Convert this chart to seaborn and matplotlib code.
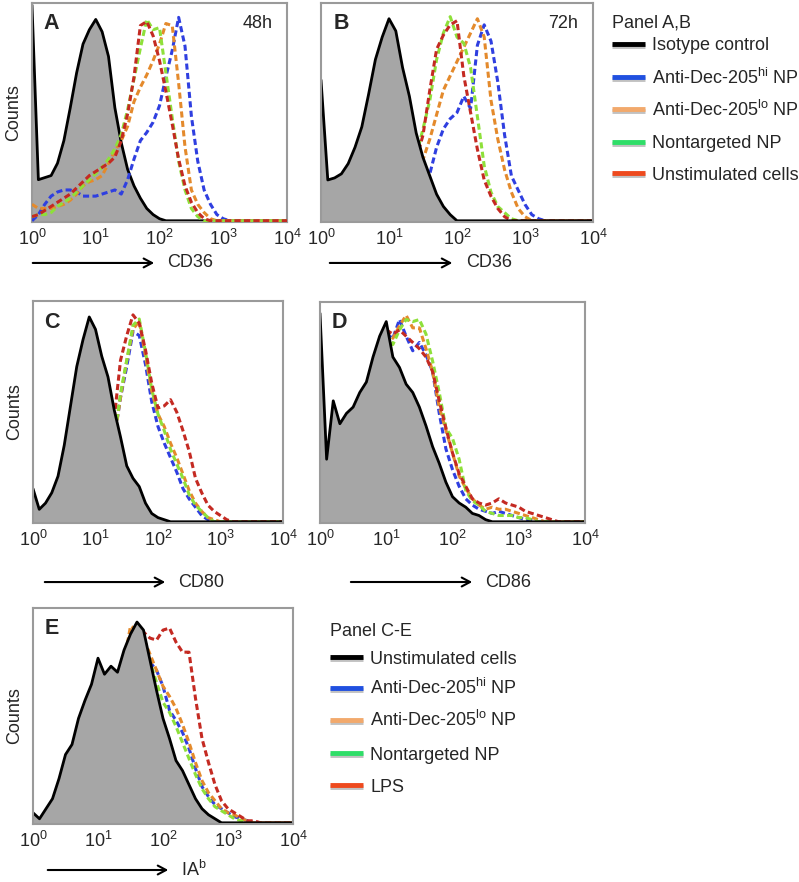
import matplotlib
matplotlib.use("Agg")
import matplotlib.pyplot as plt
import matplotlib.patheffects as pe
from matplotlib.lines import Line2D
import numpy as np
import pandas as pd
import seaborn as sns

# log10 fluorescence channels, 10^0 .. 10^4
channels = np.round(np.arange(0, 4.01, 0.1), 1)
nan = np.nan

# --- panel A (CD36, 48h) ---
a_iso = [105, 20, 21, 22, 28, 39, 55, 72, 86, 93, 98, 92, 80, 55, 38, 25, 17, 11, 6, 3, 1] + [0] * 20
a_hi = [0, 3, 8, 12, 14, 15, 15, 14, 12, 12, 12, 13, 14, 15, 13, 20, 30, 39, 43, 48, 56, 70, 83, 99, 85, 51,
        29, 15, 8, 3, 1, 0] + [0] * 9
a_lo = [8, 6, 6, 6, 7, 8, 10, 13, 17, 19, 20, 22, 28, 34, 39, 46, 58, 65, 71, 78, 86, 96, 95, 67, 36, 15, 8, 4,
        1, 0] + [0] * 11
a_nt = [2, 3, 3, 4, 7, 9, 11, 14, 17, 20, 23, 26, 30, 35, 42, 54, 69, 84, 98, 93, 94, 72, 50, 29, 15, 6, 2, 0] + [0] * 13
a_un = [2, 3, 5, 7, 9, 11, 13, 16, 19, 22, 24, 26, 28, 31, 39, 52, 70, 95, 97, 90, 78, 63, 47, 30, 17, 9, 4, 1,
        0] + [0] * 12

# --- panel B (CD36, 72h) ---
b_iso = [69, 20, 21, 23, 28, 36, 46, 62, 79, 90, 99, 93, 75, 61, 43, 31, 22, 13, 7, 3, 0] + [0] * 20
b_hi = [nan] * 15 + [15, 23, 36, 45, 50, 53, 61, 55, 86, 96, 88, 68, 42, 22, 15, 8, 3, 1, 0] + [0] * 7
b_lo = [nan] * 14 + [20, 30, 40, 52, 64, 71, 78, 85, 92, 99, 90, 59, 40, 25, 14, 6, 2, 0] + [0] * 9
b_nt = [nan] * 14 + [32, 45, 59, 79, 92, 100, 90, 87, 75, 51, 27, 14, 7, 4, 1, 0] + [0] * 11
b_un = [nan] * 14 + [30, 42, 64, 84, 91, 96, 98, 71, 53, 35, 20, 12, 6, 2, 0] + [0] * 12

# --- panel C (CD80) ---
c_iso = [16, 6, 9, 14, 22, 37, 56, 75, 88, 99, 93, 80, 70, 54, 41, 27, 21, 17, 9, 4, 2, 1, 0] + [0] * 18
c_hi = [nan] * 13 + [40, 60, 75, 92, 90, 76, 58, 46, 38, 31, 24, 16, 11, 7, 3, 1, 0] + [0] * 11
c_lo = [nan] * 13 + [40, 60, 78, 93, 97, 80, 63, 52, 46, 38, 31, 23, 15, 9, 5, 2, 1, 0] + [0] * 10
c_nt = [nan] * 13 + [40, 62, 78, 95, 98, 82, 64, 52, 44, 35, 28, 21, 13, 8, 5, 2, 0] + [0] * 11
c_lps = [nan] * 13 + [50, 78, 90, 100, 96, 83, 67, 55, 56, 59, 53, 44, 34, 21, 14, 8, 5, 3, 1, 0] + [0] * 8

# --- panel D (CD86) ---
d_iso = [100, 30, 58, 47, 52, 55, 62, 67, 79, 89, 96, 79, 74, 66, 62, 55, 46, 36, 28, 19, 12, 9, 7, 4, 3, 1,
         0] + [0] * 14
d_hi = [nan] * 10 + [90, 88, 97, 89, 82, 86, 80, 72, 52, 35, 25, 17, 11, 8, 6, 5, 4, 5, 4, 3, 2, 1, 1, 0] + [0] * 7
d_lo = [nan] * 10 + [92, 88, 94, 99, 93, 93, 83, 72, 55, 44, 33, 22, 16, 11, 8, 6, 7, 6, 6, 5, 4, 3, 2, 1,
                     0] + [0] * 6
d_nt = [nan] * 10 + [90, 85, 92, 97, 96, 97, 90, 77, 62, 45, 40, 30, 15, 10, 8, 5, 4, 3, 3, 3, 2, 2, 1, 0] + [0] * 7
d_lps = [nan] * 10 + [92, 90, 92, 89, 86, 83, 79, 72, 58, 45, 33, 23, 17, 11, 9, 8, 9, 11, 9, 8, 7, 5, 4, 3, 2,
                      1, 0] + [0] * 4

# --- panel E (IA^b) ---
e_iso = [5, 2, 7, 12, 22, 34, 39, 52, 61, 69, 82, 74, 78, 75, 86, 94, 100, 96, 81, 66, 52, 42, 31, 26, 19, 12,
         7, 4, 2, 0] + [0] * 11
e_hi = [nan] * 16 + [88, 90, 80, 76, 68, 56, 51, 45, 37, 27, 18, 13, 9, 7, 5, 3, 2, 1, 0] + [0] * 6
e_lo = [nan] * 14 + [80, 98, 96, 92, 84, 76, 68, 63, 57, 49, 40, 30, 21, 15, 11, 7, 5, 4, 2, 1, 0] + [0] * 6
e_nt = [nan] * 16 + [90, 92, 80, 70, 60, 55, 48, 40, 32, 24, 17, 12, 8, 6, 4, 2, 1, 0] + [0] * 7
e_lps = [nan] * 16 + [90, 95, 92, 91, 96, 97, 90, 85, 85, 62, 42, 30, 19, 11, 7, 5, 3, 1, 1, 0] + [0] * 5

panel_letters = ["A", "B", "C", "D", "E"]
panel_times = ["48h", "72h", "", "", ""]
markers = ["CD36", "CD36", "CD80", "CD86", "IA$^{\\mathrm{b}}$"]
tick_labels = ["$10^{0}$", "$10^{1}$", "$10^{2}$", "$10^{3}$", "$10^{4}$"]

legend_ab = ["Isotype control", "Anti-Dec-205$^{\\mathrm{hi}}$ NP", "Anti-Dec-205$^{\\mathrm{lo}}$ NP",
             "Nontargeted NP", "Unstimulated cells"]
legend_ce = ["Unstimulated cells", "Anti-Dec-205$^{\\mathrm{hi}}$ NP", "Anti-Dec-205$^{\\mathrm{lo}}$ NP",
             "Nontargeted NP", "LPS"]
legend_colors = ["#000000", "#2050e0", "#f2a96c", "#2fde68", "#ee4a1e"]

# line colours as they appear inside the histograms
line_colors = {"hi": "#2f3fe0", "lo": "#e48a2c", "nt": "#8ee03a", "red": "#c42a22"}

W, H = 799, 882
# (left, top, right, bottom) in pixels
boxes = [(32, 3, 287, 222), (321, 3, 593, 222), (33, 301, 283, 523), (320, 302, 585, 523), (33, 608, 293, 824)]
ytops = [106, 106.7, 106.7, 105.4, 107]
arrows = [(-0.008, 0.49, -0.187), (0.022, 0.493, -0.187), (0.036, 0.54, -0.266), (0.106, 0.585, -0.267),
          (0.046, 0.531, -0.213)]

panels = [
    (a_iso, [("hi", a_hi), ("lo", a_lo), ("nt", a_nt), ("red", a_un)], True),
    (b_iso, [("hi", b_hi), ("lo", b_lo), ("nt", b_nt), ("red", b_un)], False),
    (c_iso, [("hi", c_hi), ("lo", c_lo), ("nt", c_nt), ("red", c_lps)], False),
    (d_iso, [("hi", d_hi), ("lo", d_lo), ("nt", d_nt), ("red", d_lps)], False),
    (e_iso, [("hi", e_hi), ("lo", e_lo), ("nt", e_nt), ("red", e_lps)], False),
]

sns.set_style("white")
plt.rcParams["font.family"] = ["Liberation Sans", "DejaVu Sans"]
plt.rcParams["mathtext.fontset"] = "custom"
plt.rcParams["mathtext.rm"] = "Liberation Sans"
plt.rcParams["mathtext.it"] = "Liberation Sans:italic"
plt.rcParams["mathtext.bf"] = "Liberation Sans:bold"

fig = plt.figure(figsize=(W / 100, H / 100), dpi=100)
intensity = 10 ** channels

for i, (iso, curves, on_top) in enumerate(panels):
    l, t, r, b = boxes[i]
    ax = fig.add_axes([l / W, 1 - b / H, (r - l) / W, (b - t) / H])
    z_col = 3 if on_top else 1
    ax.fill_between(intensity, iso, 0, color="#a6a6a6", lw=0, zorder=2)
    for key, vals in curves:
        df = pd.DataFrame({"x": intensity, "y": vals}).dropna()
        sns.lineplot(data=df, x="x", y="y", ax=ax, color=line_colors[key], lw=2.2,
                     linestyle=(0, (2.0, 1.1)), zorder=z_col, estimator=None, sort=False)
    sns.lineplot(x=intensity, y=iso, ax=ax, color="black", lw=2, zorder=2.5, estimator=None, sort=False)

    ax.set_xscale("log")
    ax.set_xlim(1, 1e4)
    ax.set_ylim(-0.6, ytops[i])
    ax.set_xticks([1, 10, 100, 1000, 10000])
    ax.set_xticklabels(tick_labels, fontsize=13)
    ax.xaxis.set_minor_locator(matplotlib.ticker.NullLocator())
    ax.tick_params(axis="x", length=0, pad=5)
    ax.set_yticks([])
    ax.set_xlabel("")
    ax.set_ylabel("Counts" if i in (0, 2, 4) else "", fontsize=13, labelpad=7)
    for s in ax.spines.values():
        s.set_color("#9a9a9a")
        s.set_linewidth(1.5)

    ax.text(0.045, 0.905, panel_letters[i], transform=ax.transAxes, fontsize=15.5, fontweight="bold",
            va="center", ha="left")
    if panel_times[i]:
        ax.text(0.945, 0.905, panel_times[i], transform=ax.transAxes, fontsize=13, va="center", ha="right")

    x0, x1, y = arrows[i]
    ax.annotate("", xy=(x1, y), xytext=(x0, y), xycoords="axes fraction", textcoords="axes fraction",
                arrowprops=dict(arrowstyle="->,head_length=0.6,head_width=0.32", lw=1.5, color="black"),
                annotation_clip=False)
    ax.text(x1 + 0.04, y, markers[i], transform=ax.transAxes, fontsize=13, va="center", ha="left")


def add_legend(title, labels, x_px, title_y, rows_y):
    # hand-drawn key: coloured bar with a soft grey shadow, then the label
    fig.text(x_px / W, 1 - title_y / H, title, fontsize=13, va="center", ha="left")
    shadow = [pe.SimpleLineShadow(offset=(0, -1.5), shadow_color="#999999", alpha=0.6), pe.Normal()]
    for label, color, y in zip(labels, legend_colors, rows_y):
        yf = 1 - y / H
        fig.add_artist(Line2D([x_px / W, (x_px + 33) / W], [yf, yf], transform=fig.transFigure,
                              color=color, lw=3.5, solid_capstyle="butt", path_effects=shadow))
        fig.text((x_px + 40) / W, 1 - (y + 6.5) / H, label, fontsize=13, va="baseline", ha="left")


add_legend("Panel A,B", legend_ab, 612, 23, [44, 77, 109, 142, 173])
add_legend("Panel C-E", legend_ce, 330, 632, [657, 688, 720, 753, 785])

fig.savefig("out.png", dpi=100)
